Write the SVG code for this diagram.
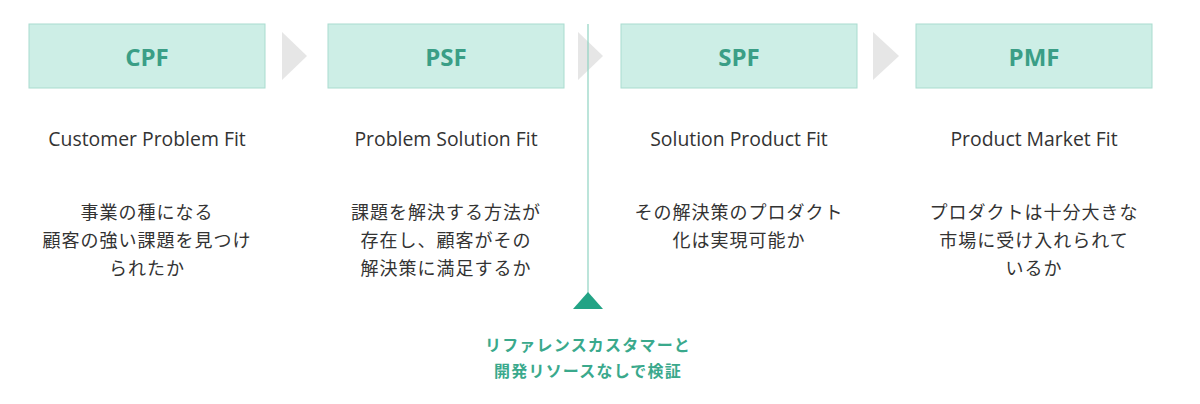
<svg xmlns="http://www.w3.org/2000/svg" width="1200" height="404" viewBox="0 0 1200 404">
<style>
.box{fill:#cdeee6;stroke:#a9dccf;stroke-width:1}
.title{font-family:"Open Sans","Noto Sans",sans-serif;font-weight:bold;font-size:24px;fill:#3a9e86;text-anchor:middle}
.sub{font-family:"Open Sans","Noto Sans",sans-serif;font-size:19.4px;fill:#333;text-anchor:middle}
.jp{font-family:"Noto Sans CJK JP",sans-serif;font-size:18px;fill:#333;text-anchor:middle;letter-spacing:1px}
.note{font-family:"Noto Sans CJK JP",sans-serif;font-weight:bold;font-size:16px;fill:#3aa98c;text-anchor:middle;letter-spacing:1.2px}
.chev{fill:#e6e6e6}
</style>
<rect width="1200" height="404" fill="#fff"/>
<g id="connectors">
<polygon class="chev" points="282,32 307,56 282,80"/>
<polygon class="chev" points="578,32 603,56 578,80"/>
<polygon class="chev" points="873,32 899,56 873,80"/>
<line x1="588" y1="24" x2="588" y2="293" stroke="#8fd3c1" stroke-width="1.2"/>
<polygon points="588,292 603,309 573,309" fill="#22a385"/>
</g>
<g id="cpf">
<rect class="box" x="29" y="24" width="236" height="64"/>
<text class="title" x="147" y="66">CPF</text>
<text class="sub" x="147" y="146">Customer Problem Fit</text>
<text class="jp" x="147" y="219">事業の種になる</text>
<text class="jp" x="147" y="247">顧客の強い課題を見つけ</text>
<text class="jp" x="147" y="275">られたか</text>
</g>
<g id="psf">
<rect class="box" x="328" y="24" width="236" height="64"/>
<text class="title" x="446" y="66">PSF</text>
<text class="sub" x="446" y="146">Problem Solution Fit</text>
<text class="jp" x="446" y="219">課題を解決する方法が</text>
<text class="jp" x="446" y="247">存在し、顧客がその</text>
<text class="jp" x="446" y="275">解決策に満足するか</text>
</g>
<g id="spf">
<rect class="box" x="621" y="24" width="236" height="64"/>
<text class="title" x="739" y="66">SPF</text>
<text class="sub" x="739" y="146">Solution Product Fit</text>
<text class="jp" x="739" y="219">その解決策のプロダクト</text>
<text class="jp" x="739" y="247">化は実現可能か</text>
</g>
<g id="pmf">
<rect class="box" x="916" y="24" width="236" height="64"/>
<text class="title" x="1034" y="66">PMF</text>
<text class="sub" x="1034" y="146">Product Market Fit</text>
<text class="jp" x="1034" y="219">プロダクトは十分大きな</text>
<text class="jp" x="1034" y="247">市場に受け入れられて</text>
<text class="jp" x="1034" y="275">いるか</text>
</g>
<g id="note">
<text class="note" x="588" y="351">リファレンスカスタマーと</text>
<text class="note" x="588" y="377">開発リソースなしで検証</text>
</g>
</svg>
